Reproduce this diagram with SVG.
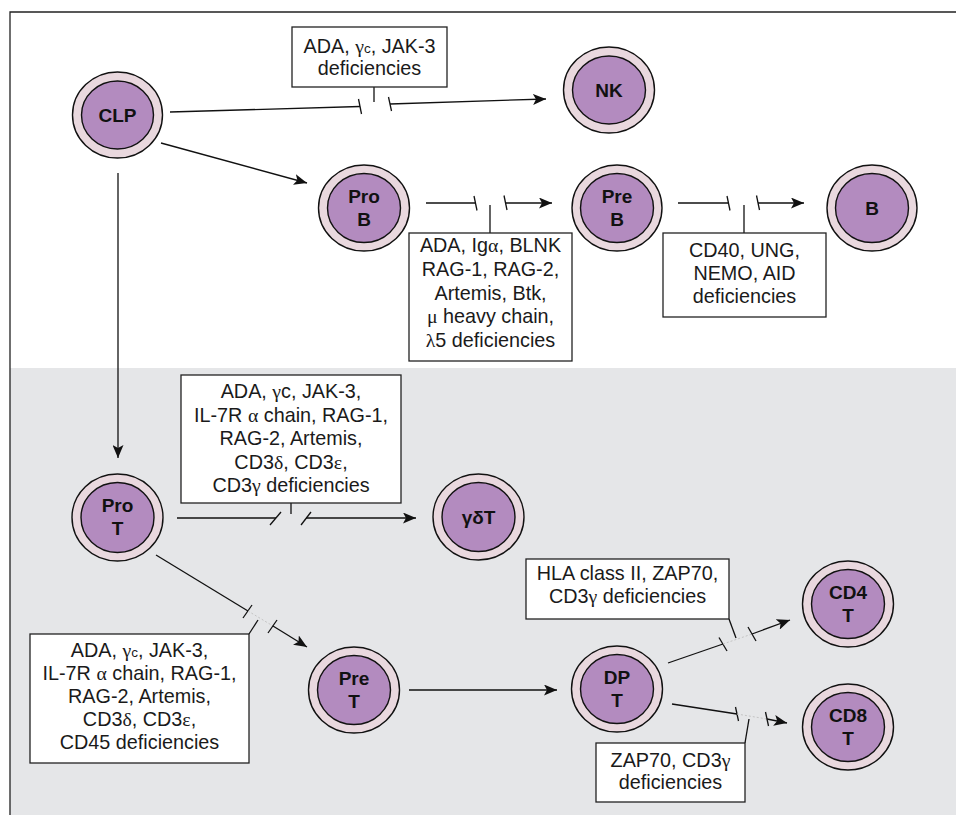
<svg xmlns="http://www.w3.org/2000/svg" width="956" height="815" viewBox="0 0 956 815">
<defs>
<marker id="ah" markerUnits="userSpaceOnUse" markerWidth="14" markerHeight="11" refX="13" refY="5.5" orient="auto">
<path d="M0,0 L13,5.5 L0,11 L3,5.5 z" fill="#111"/>
</marker>
<style>
.ring{fill:#e9d8de;stroke:#111;stroke-width:1.4}
.core{fill:#b38bbf;stroke:#111;stroke-width:1.4}
.nl{font-family:"Liberation Sans",Arial,sans-serif;font-weight:bold;font-size:19px;fill:#111;text-anchor:middle}
.box{fill:#fff;stroke:#222;stroke-width:1.3}
.bt{font-family:"Liberation Sans",Arial,sans-serif;font-size:19.8px;fill:#1a1a1a;text-anchor:middle}
.gk{font-family:"Liberation Serif","Times New Roman",serif}
.sub{font-size:13.5px}
.c{fill:none;stroke:#111;stroke-width:1.3}
.dot{fill:none;stroke:#c4c4c4;stroke-width:1;stroke-dasharray:2 2}
</style>
</defs>
<rect x="0" y="0" width="956" height="815" fill="#fff"/>
<rect x="10" y="368" width="946" height="447" fill="#e5e6e8"/>
<path d="M956,12 H10 V815" fill="none" stroke="#222" stroke-width="1.3"/>

<g id="connectors">
<!-- CLP -> NK -->
<line class="c" x1="170" y1="112" x2="360" y2="106.5"/>
<line class="c" x1="358.5" y1="99" x2="361.5" y2="114"/>
<line class="c" x1="390" y1="104" x2="546" y2="99" marker-end="url(#ah)"/>
<line class="c" x1="388.5" y1="97" x2="391.5" y2="111"/>
<line class="c" x1="374" y1="87" x2="374" y2="102"/>
<!-- CLP -> ProB -->
<line class="c" x1="161" y1="143" x2="307" y2="183" marker-end="url(#ah)"/>
<!-- CLP -> ProT -->
<line class="c" x1="118" y1="173" x2="118" y2="458" marker-end="url(#ah)"/>
<!-- ProB -> PreB -->
<line class="c" x1="426" y1="203" x2="476" y2="203"/>
<line class="c" x1="474" y1="196" x2="477" y2="210.5"/>
<line class="c" x1="505.5" y1="203" x2="552" y2="203" marker-end="url(#ah)"/>
<line class="c" x1="504" y1="195.5" x2="507" y2="210"/>
<line class="c" x1="490" y1="205" x2="490" y2="233"/>
<!-- PreB -> B -->
<line class="c" x1="678" y1="203" x2="729" y2="203"/>
<line class="c" x1="727" y1="196" x2="730" y2="210.5"/>
<line class="c" x1="758" y1="203" x2="804" y2="203" marker-end="url(#ah)"/>
<line class="c" x1="756.5" y1="195.5" x2="759.5" y2="210"/>
<line class="c" x1="744" y1="205" x2="744" y2="233"/>
<!-- ProT -> gdT -->
<line class="c" x1="177" y1="518" x2="276" y2="518"/>
<line class="c" x1="270" y1="525" x2="281" y2="512"/>
<line class="c" x1="306" y1="518" x2="416" y2="518" marker-end="url(#ah)"/>
<line class="c" x1="301" y1="525" x2="311" y2="512"/>
<line class="c" x1="291" y1="503" x2="291" y2="514"/>
<!-- ProT -> PreT -->
<line class="c" x1="156" y1="555" x2="248" y2="611"/>
<line class="c" x1="243" y1="618" x2="252" y2="605"/>
<line class="dot" x1="248" y1="611" x2="273" y2="626"/>
<line class="c" x1="273" y1="626" x2="307" y2="647" marker-end="url(#ah)"/>
<line class="c" x1="268" y1="633" x2="277" y2="620"/>
<line class="c" x1="249" y1="634" x2="258" y2="620"/>
<!-- PreT -> DPT -->
<line class="c" x1="409" y1="690" x2="557" y2="690" marker-end="url(#ah)"/>
<!-- DPT -> CD4T -->
<line class="c" x1="668" y1="663" x2="723" y2="644"/>
<line class="c" x1="719" y1="637.5" x2="727" y2="651"/>
<line class="dot" x1="723" y1="644" x2="752" y2="634"/>
<line class="c" x1="752" y1="634" x2="790" y2="620" marker-end="url(#ah)"/>
<line class="c" x1="748" y1="627" x2="756" y2="641"/>
<line class="c" x1="729" y1="619" x2="736" y2="638"/>
<!-- DPT -> CD8T -->
<line class="c" x1="672" y1="704" x2="737" y2="714"/>
<line class="c" x1="735.5" y1="707" x2="738.5" y2="721"/>
<line class="dot" x1="737" y1="714" x2="767" y2="719"/>
<line class="c" x1="767" y1="719" x2="787" y2="723" marker-end="url(#ah)"/>
<line class="c" x1="765.5" y1="712" x2="768.5" y2="726"/>
<line class="c" x1="749" y1="719" x2="745" y2="743"/>
</g>

<g id="node-CLP"><ellipse class="ring" cx="117.5" cy="115" rx="45" ry="43"/><ellipse class="core" cx="117.5" cy="115" rx="36" ry="34"/><text class="nl" x="117.5" y="122">CLP</text></g>
<g id="node-NK"><ellipse class="ring" cx="609" cy="90" rx="45.5" ry="43"/><ellipse class="core" cx="609" cy="90" rx="36.5" ry="34"/><text class="nl" x="609" y="97">NK</text></g>
<g id="node-ProB"><ellipse class="ring" cx="364" cy="208" rx="45.5" ry="43"/><ellipse class="core" cx="364" cy="208" rx="36.5" ry="34.5"/><text class="nl" x="364" y="203">Pro</text><text class="nl" x="364" y="225.5">B</text></g>
<g id="node-PreB"><ellipse class="ring" cx="617" cy="208" rx="45" ry="43"/><ellipse class="core" cx="617" cy="208" rx="36.5" ry="34.5"/><text class="nl" x="617" y="203">Pre</text><text class="nl" x="617" y="225.5">B</text></g>
<g id="node-B"><ellipse class="ring" cx="872" cy="208" rx="45" ry="43"/><ellipse class="core" cx="872" cy="208" rx="36.5" ry="34.5"/><text class="nl" x="872" y="215">B</text></g>
<g id="node-ProT"><ellipse class="ring" cx="117.5" cy="517.5" rx="45.5" ry="43.5"/><ellipse class="core" cx="117.5" cy="517.5" rx="36.5" ry="35"/><text class="nl" x="117.5" y="512">Pro</text><text class="nl" x="117.5" y="535">T</text></g>
<g id="node-gdT"><ellipse class="ring" cx="478.5" cy="517" rx="45.5" ry="43"/><ellipse class="core" cx="478.5" cy="517" rx="36.5" ry="34.5"/><text class="nl" x="478.5" y="524">γδT</text></g>
<g id="node-PreT"><ellipse class="ring" cx="354" cy="690" rx="45.5" ry="43"/><ellipse class="core" cx="354" cy="690" rx="36.5" ry="34.5"/><text class="nl" x="354" y="685">Pre</text><text class="nl" x="354" y="707.5">T</text></g>
<g id="node-DPT"><ellipse class="ring" cx="617" cy="689" rx="45.5" ry="43"/><ellipse class="core" cx="617" cy="689" rx="36.5" ry="34.5"/><text class="nl" x="617" y="684">DP</text><text class="nl" x="617" y="706.5">T</text></g>
<g id="node-CD4T"><ellipse class="ring" cx="848" cy="604" rx="45.5" ry="43"/><ellipse class="core" cx="848" cy="604" rx="36.5" ry="34.5"/><text class="nl" x="848" y="599">CD4</text><text class="nl" x="848" y="621.5">T</text></g>
<g id="node-CD8T"><ellipse class="ring" cx="848" cy="727" rx="45.5" ry="43"/><ellipse class="core" cx="848" cy="727" rx="36.5" ry="34.5"/><text class="nl" x="848" y="722">CD8</text><text class="nl" x="848" y="744.5">T</text></g>

<g id="label-NK">
<rect class="box" x="292" y="27" width="155" height="60"/>
<text class="bt" x="369.5" y="53">ADA, <tspan class="gk">γ</tspan><tspan class="sub">c</tspan>, JAK-3</text>
<text class="bt" x="369.5" y="75">deficiencies</text>
</g>
<g id="label-PreB">
<rect class="box" x="409" y="233" width="163" height="128"/>
<text class="bt" x="490.5" y="252">ADA, Ig<tspan class="gk">α</tspan>, BLNK</text>
<text class="bt" x="490.5" y="276">RAG-1, RAG-2,</text>
<text class="bt" x="490.5" y="300">Artemis, Btk,</text>
<text class="bt" x="490.5" y="323"><tspan class="gk">μ</tspan> heavy chain,</text>
<text class="bt" x="490.5" y="347"><tspan class="gk">λ</tspan>5 deficiencies</text>
</g>
<g id="label-B">
<rect class="box" x="663" y="233" width="163" height="84"/>
<text class="bt" x="744.5" y="257">CD40, UNG,</text>
<text class="bt" x="744.5" y="280">NEMO, AID</text>
<text class="bt" x="744.5" y="303">deficiencies</text>
</g>
<g id="label-gdT">
<rect class="box" x="181" y="375" width="220" height="128"/>
<text class="bt" x="291" y="398">ADA, <tspan class="gk">γ</tspan>c, JAK-3,</text>
<text class="bt" x="291" y="422">IL-7R <tspan class="gk">α</tspan> chain, RAG-1,</text>
<text class="bt" x="291" y="445">RAG-2, Artemis,</text>
<text class="bt" x="291" y="469">CD3<tspan class="gk">δ</tspan>, CD3<tspan class="gk">ε</tspan>,</text>
<text class="bt" x="291" y="492">CD3<tspan class="gk">γ</tspan> deficiencies</text>
</g>
<g id="label-PreT">
<rect class="box" x="30" y="634" width="219" height="129"/>
<text class="bt" x="139.5" y="657">ADA, <tspan class="gk">γ</tspan><tspan class="sub">c</tspan>, JAK-3,</text>
<text class="bt" x="139.5" y="680">IL-7R <tspan class="gk">α</tspan> chain, RAG-1,</text>
<text class="bt" x="139.5" y="703">RAG-2, Artemis,</text>
<text class="bt" x="139.5" y="726">CD3<tspan class="gk">δ</tspan>, CD3<tspan class="gk">ε</tspan>,</text>
<text class="bt" x="139.5" y="749">CD45 deficiencies</text>
</g>
<g id="label-CD4T">
<rect class="box" x="526" y="559" width="203" height="60"/>
<text class="bt" x="627.5" y="580">HLA class II, ZAP70,</text>
<text class="bt" x="627.5" y="603">CD3<tspan class="gk">γ</tspan> deficiencies</text>
</g>
<g id="label-CD8T">
<rect class="box" x="596" y="743" width="149" height="59"/>
<text class="bt" x="670.5" y="767">ZAP70, CD3<tspan class="gk">γ</tspan></text>
<text class="bt" x="670.5" y="789">deficiencies</text>
</g>
</svg>
